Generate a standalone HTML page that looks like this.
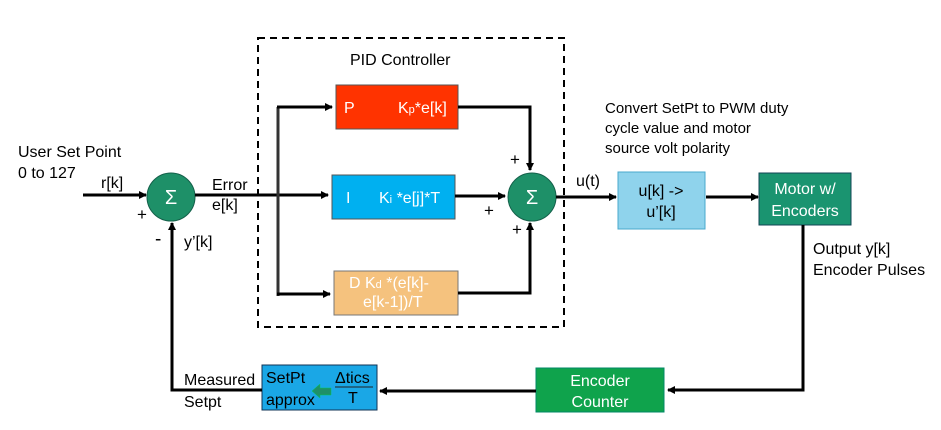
<!DOCTYPE html>
<html><head><meta charset="utf-8"><style>
html,body{margin:0;padding:0;background:#fff;}
svg{display:block;}
text{font-family:"Liberation Sans",sans-serif;}
</style></head><body>
<svg width="941" height="430" viewBox="0 0 941 430" xmlns="http://www.w3.org/2000/svg">
<defs>
<marker id="a" markerWidth="8" markerHeight="8" refX="7" refY="4" orient="auto" markerUnits="userSpaceOnUse">
<path d="M0,0 L8,4 L0,8 z" fill="#000"/></marker>
</defs>
<rect x="0" y="0" width="941" height="430" fill="#fff"/>
<rect x="258" y="38" width="306" height="289" fill="none" stroke="#000" stroke-width="2" stroke-dasharray="7,5"/>
<text x="350" y="65" font-size="16">PID Controller</text>
<text x="18" y="157" font-size="16">User Set Point</text>
<text x="18" y="178" font-size="16">0 to 127</text>
<text x="101" y="188" font-size="16">r[k]</text>
<line x1="83" y1="195" x2="146" y2="195" stroke="#000" stroke-width="3" marker-end="url(#a)"/>
<circle cx="171" cy="197" r="24" fill="#1e9068" stroke="#14604a" stroke-width="1"/>
<text x="171" y="204" font-size="20" fill="#fff" text-anchor="middle">Σ</text>
<text x="137" y="220" font-size="17">+</text>
<text x="155" y="245" font-size="19">-</text>
<text x="184" y="247" font-size="16">y’[k]</text>
<text x="212" y="190" font-size="16">Error</text>
<text x="212" y="210" font-size="16">e[k]</text>
<line x1="195" y1="195" x2="328" y2="195" stroke="#000" stroke-width="3" marker-end="url(#a)"/>
<line x1="278" y1="107" x2="278" y2="296" stroke="#333" stroke-width="3"/>
<line x1="277" y1="107" x2="332" y2="107" stroke="#000" stroke-width="3" marker-end="url(#a)"/>
<line x1="277" y1="294" x2="330" y2="294" stroke="#000" stroke-width="3" marker-end="url(#a)"/>
<rect x="336" y="85" width="122" height="44" fill="#ff3300" stroke="#555"/>
<text x="344" y="113" font-size="16" fill="#fff">P</text>
<text x="398" y="113" font-size="16" fill="#fff">K<tspan font-size="11">p</tspan>*e[k]</text>
<rect x="332" y="175" width="123" height="44" fill="#00b0f0" stroke="#555"/>
<text x="346" y="203" font-size="16" fill="#fff">I</text>
<text x="379" y="203" font-size="16" fill="#fff">K<tspan font-size="11">i</tspan> *e[j]*T</text>
<rect x="334" y="271" width="124" height="44" fill="#f5c27e" stroke="#777"/>
<text x="349" y="288" font-size="16" fill="#fff">D   K<tspan font-size="11">d</tspan> *(e[k]-</text>
<text x="363" y="307" font-size="16" fill="#fff">e[k-1])/T</text>
<polyline points="458,107 530,107 530,170" fill="none" stroke="#000" stroke-width="3" marker-end="url(#a)"/>
<line x1="455" y1="196" x2="505" y2="196" stroke="#000" stroke-width="3" marker-end="url(#a)"/>
<polyline points="458,293 530,293 530,223" fill="none" stroke="#000" stroke-width="3" marker-end="url(#a)"/>
<circle cx="532" cy="197" r="24" fill="#1e9068" stroke="#14604a"/>
<text x="532" y="204" font-size="20" fill="#fff" text-anchor="middle">Σ</text>
<text x="510" y="165" font-size="17">+</text>
<text x="484" y="216" font-size="17">+</text>
<text x="512" y="235" font-size="17">+</text>
<text x="576" y="186" font-size="16">u(t)</text>
<line x1="556" y1="197" x2="616" y2="197" stroke="#000" stroke-width="3" marker-end="url(#a)"/>
<text x="605" y="113" font-size="15">Convert SetPt to PWM duty</text>
<text x="605" y="133" font-size="15">cycle value and motor</text>
<text x="605" y="153" font-size="15">source volt polarity</text>
<rect x="618" y="172" width="87" height="57" fill="#8fd3ec" stroke="#4aa8cc"/>
<text x="661" y="196" font-size="16" text-anchor="middle">u[k] -&gt;</text>
<text x="661" y="217" font-size="16" text-anchor="middle">u’[k]</text>
<line x1="706" y1="197" x2="758" y2="197" stroke="#000" stroke-width="3" marker-end="url(#a)"/>
<rect x="759" y="173" width="92" height="52" fill="#1a9470" stroke="#145"/>
<text x="805" y="194" font-size="16" fill="#fff" text-anchor="middle">Motor w/</text>
<text x="805" y="216" font-size="16" fill="#fff" text-anchor="middle">Encoders</text>
<text x="813" y="254" font-size="16">Output y[k]</text>
<text x="813" y="275" font-size="16">Encoder Pulses</text>
<polyline points="803,225 803,390 668,390" fill="none" stroke="#000" stroke-width="3" marker-end="url(#a)"/>
<rect x="536" y="368" width="128" height="44" fill="#0fa34c" stroke="#086"/>
<text x="600" y="386" font-size="16" fill="#fff" text-anchor="middle">Encoder</text>
<text x="600" y="407" font-size="16" fill="#fff" text-anchor="middle">Counter</text>
<line x1="536" y1="391" x2="380" y2="391" stroke="#000" stroke-width="3" marker-end="url(#a)"/>
<rect x="262" y="365" width="115" height="45" fill="#1aa7e6" stroke="#135"/>
<text x="266" y="383" font-size="16">SetPt</text>
<text x="266" y="405" font-size="16">approx</text>
<text x="335" y="383" font-size="16">Δtics</text>
<line x1="335" y1="387" x2="373" y2="387" stroke="#222" stroke-width="1"/>
<text x="348" y="403" font-size="16">T</text>
<path d="M312,391 L320,384 L320,388 L331,388 L331,395 L320,395 L320,398 Z" fill="#1e9068" stroke="#0c5" stroke-width="0.5"/>
<polyline points="262,390 172,390 172,223" fill="none" stroke="#000" stroke-width="3" marker-end="url(#a)"/>
<text x="184" y="385" font-size="16">Measured</text>
<text x="184" y="407" font-size="16">Setpt</text>
</svg>
</body></html>
